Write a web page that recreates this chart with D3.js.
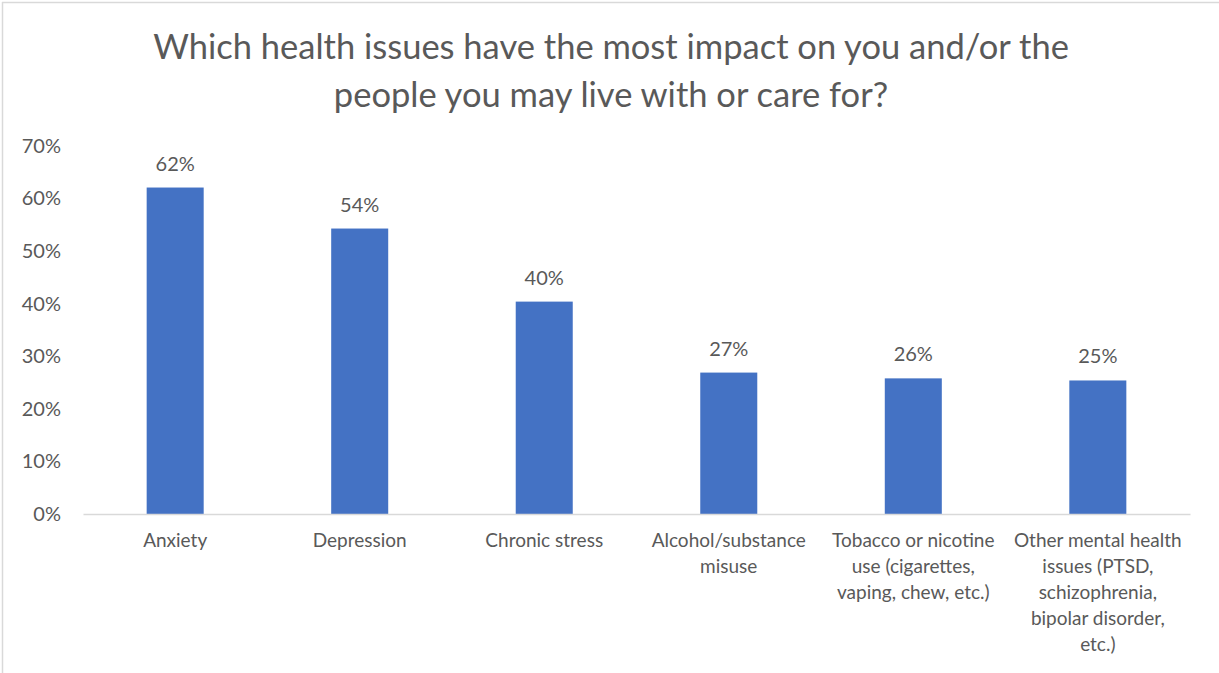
<!DOCTYPE html>
<html>
<head>
<meta charset="utf-8">
<script src="https://cdn.jsdelivr.net/npm/d3@7"></script>
<style>
  html, body { margin: 0; padding: 0; background: #fff; }
  svg { display: block; }
  text { font-family: Lato, "Open Sans", sans-serif; fill: #595959; }
</style>
</head>
<body>
<svg id="chart" width="1219" height="673"></svg>
<script>
// Survey responses: share of respondents naming each health issue
const titleLines = [
  "Which health issues have the most impact on you and/or the",
  "people you may live with or care for?"
];
const categories = [
  "Anxiety",
  "Depression",
  "Chronic stress",
  "Alcohol/substance misuse",
  "Tobacco or nicotine use (cigarettes, vaping, chew, etc.)",
  "Other mental health issues (PTSD, schizophrenia, bipolar disorder, etc.)"
];
const values = [0.621, 0.543, 0.404, 0.269, 0.258, 0.254];
const yTicks = [0, 0.1, 0.2, 0.3, 0.4, 0.5, 0.6, 0.7];

const W = 1219, H = 673;
const margin = { top: 146, right: 29, bottom: 159, left: 83 };
const svg = d3.select("#chart");

// Chart frame (top and left edges visible)
svg.append("line").attr("x1", 2).attr("x2", W).attr("y1", 2.5).attr("y2", 2.5)
  .attr("stroke", "#d9d9d9").attr("stroke-width", 1.5);
svg.append("line").attr("x1", 2.5).attr("x2", 2.5).attr("y1", 2).attr("y2", H)
  .attr("stroke", "#d9d9d9").attr("stroke-width", 1.5);

// Title
svg.append("text")
  .attr("x", 611).attr("y", 59)
  .attr("text-anchor", "middle")
  .style("font-size", "34.5px")
  .selectAll("tspan").data(titleLines).join("tspan")
  .attr("x", 611).attr("dy", (d, i) => i === 0 ? 0 : 48)
  .text(d => d);

const x = d3.scaleBand()
  .domain(categories)
  .range([margin.left, W - margin.right])
  .paddingInner(0.691)
  .paddingOuter(0.345);

const y = d3.scaleLinear()
  .domain([0, 0.7])
  .range([H - margin.bottom, margin.top]);

// Y axis labels (no axis line, no gridlines)
const yAxis = d3.axisLeft(y)
  .tickValues(yTicks)
  .tickFormat(d3.format(".0%"))
  .tickSize(0)
  .tickPadding(0);
const gy = svg.append("g").attr("transform", "translate(61,0)").call(yAxis);
gy.select(".domain").remove();
gy.selectAll("text").style("font-size", "20px").attr("fill", "#595959");

// Bars
svg.append("g").selectAll("rect").data(values).join("rect")
  .attr("x", (d, i) => x(categories[i]))
  .attr("width", x.bandwidth())
  .attr("y", d => y(d))
  .attr("height", d => y(0) - y(d))
  .attr("fill", "#4472C4");

// Data labels
svg.append("g").selectAll("text").data(values).join("text")
  .attr("x", (d, i) => x(categories[i]) + x.bandwidth() / 2)
  .attr("y", d => y(d) - 17)
  .attr("text-anchor", "middle")
  .style("font-size", "20px")
  .attr("fill", "#404040")
  .text(d3.format(".0%"));

// X axis baseline
const xAxis = d3.axisBottom(x).tickSize(0).tickPadding(0).tickFormat("");
const gx = svg.append("g").attr("transform", `translate(0,${y(0)})`).call(xAxis);
gx.select(".domain").attr("stroke", "#d9d9d9").attr("stroke-width", 1.5);

// Category labels, word-wrapped
const maxW = 172;
const labelG = svg.append("g");
categories.forEach(cat => {
  const cx = x(cat) + x.bandwidth() / 2;
  const t = labelG.append("text")
    .attr("x", cx).attr("y", y(0) + 33)
    .attr("text-anchor", "middle")
    .style("font-size", "19px");
  const words = cat.split(" ");
  let line = [];
  let tspan = t.append("tspan").attr("x", cx).attr("dy", 0);
  words.forEach(w => {
    line.push(w);
    tspan.text(line.join(" "));
    if (tspan.node().getComputedTextLength() > maxW && line.length > 1) {
      line.pop();
      tspan.text(line.join(" "));
      line = [w];
      tspan = t.append("tspan").attr("x", cx).attr("dy", 26).text(w);
    }
  });
});
</script>
</body>
</html>
